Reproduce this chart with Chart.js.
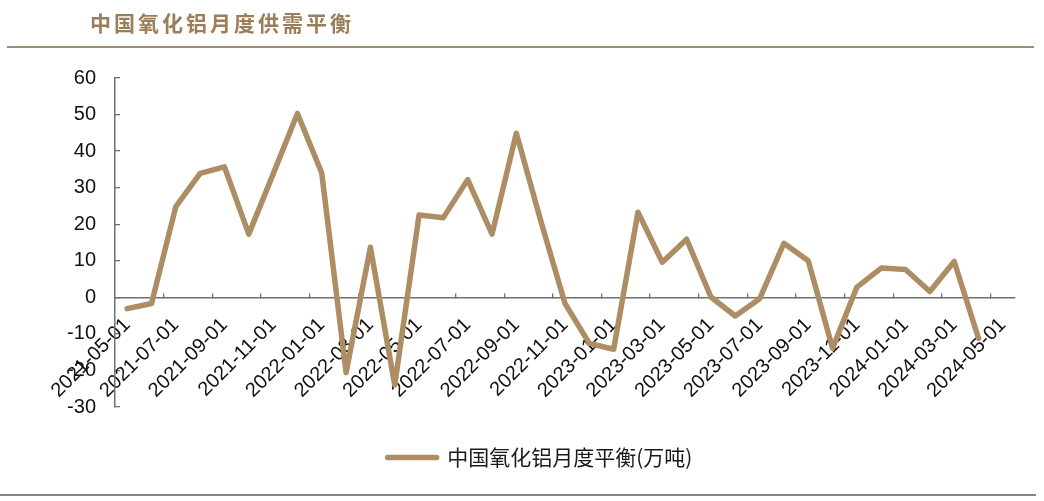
<!DOCTYPE html>
<html>
<head>
<meta charset="utf-8">
<script src="https://cdn.jsdelivr.net/npm/chart.js@4"></script>
<style>
  html, body { margin: 0; padding: 0; background: #fff; }
  #wrap { position: relative; width: 1044px; height: 501px; overflow: hidden; }
  #chartBox { position: absolute; left: 0; top: 0; width: 1044px; height: 501px; }
  #title {
    position: absolute; left: 90px; top: 8px;
    font-family: "Noto Sans CJK SC", sans-serif; font-weight: bold;
    font-size: 21px; letter-spacing: 3px; color: #9b7d59; line-height: 28px;
  }
  #topLine { position: absolute; left: 7px; top: 46px; width: 1027px; height: 2px; background: #a08b73; }
  #bottomLine { position: absolute; left: 0; top: 494px; width: 1036px; height: 2px; background: #8f8474; }
</style>
</head>
<body>
<div id="wrap">
  <div id="chartBox"><canvas id="balanceChart"></canvas></div>
  <div id="title">中国氧化铝月度供需平衡</div>
  <div id="topLine"></div>
  <div id="bottomLine"></div>
</div>
<script>
const months = [
  "2021-05-01", "2021-06-01", "2021-07-01", "2021-08-01", "2021-09-01", "2021-10-01",
  "2021-11-01", "2021-12-01", "2022-01-01", "2022-02-01", "2022-03-01", "2022-04-01",
  "2022-05-01", "2022-06-01", "2022-07-01", "2022-08-01", "2022-09-01", "2022-10-01",
  "2022-11-01", "2022-12-01", "2023-01-01", "2023-02-01", "2023-03-01", "2023-04-01",
  "2023-05-01", "2023-06-01", "2023-07-01", "2023-08-01", "2023-09-01", "2023-10-01",
  "2023-11-01", "2023-12-01", "2024-01-01", "2024-02-01", "2024-03-01", "2024-04-01",
  "2024-05-01",
];
// 万吨, last month not published yet
const balance = [
  -3.1, -1.7, 24.8, 33.9, 35.7, 17.3,
  33.7, 50.3, 34.0, -20.6, 13.7, -24.0,
  22.5, 21.8, 32.2, 17.3, 44.9, 21.0,
  -1.7, -12.6, -14.2, 23.3, 9.6, 15.9,
  0.1, -5.1, -0.4, 14.8, 10.0, -13.9,
  2.8, 8.0, 7.6, 1.6, 9.8, -11.2,
  null,
];
const seriesName = "中国氧化铝月度平衡(万吨)";
const yMin = -30;
const yMax = 60;
const yStep = 10;

const lineColor = "#ad8d64";
const axisColor = "#707070";

new Chart(document.getElementById("balanceChart"), {
  type: "line",
  data: {
    labels: months,
    datasets: [
      {
        label: seriesName,
        data: balance,
        borderColor: lineColor,
        backgroundColor: lineColor,
        borderWidth: 5.5,
        borderJoinStyle: "round",
        borderCapStyle: "round",
        pointRadius: 0,
        tension: 0,
        spanGaps: false,
      },
    ],
  },
  options: {
    responsive: true,
    maintainAspectRatio: false,
    animation: false,
    layout: { padding: { left: 65, right: 29, top: 78, bottom: 23 } },
    plugins: {
      title: { display: false },
      tooltip: { enabled: false },
      legend: {
        display: true,
        position: "bottom",
        labels: {
          boxWidth: 49,
          boxHeight: 0,
          padding: 40,
          color: "#1a1a1a",
          font: { family: "'Noto Sans CJK SC', sans-serif", size: 21 },
        },
      },
    },
    scales: {
      x: {
        type: "category",
        position: { y: 0 },
        offset: true,
        grid: {
          offset: true,
          drawOnChartArea: false,
          tickLength: -5,
          lineWidth: 1.3,
          color: (ctx) =>
            ctx.index > 0 && ctx.index % 2 === 0 ? axisColor : "rgba(0,0,0,0)",
        },
        border: { color: axisColor, width: 1.5 },
        ticks: {
          autoSkip: false,
          maxRotation: 45,
          minRotation: 45,
          padding: 21,
          color: "#111",
          font: { family: "'Liberation Sans', Arial, sans-serif", size: 20 },
          callback: function (value, index) {
            return index % 2 === 0 ? this.getLabelForValue(value) : "";
          },
        },
      },
      y: {
        min: yMin,
        max: yMax,
        afterFit: (scale) => {
          scale.width = 50;
        },
        grid: {
          drawOnChartArea: false,
          tickLength: -5,
          color: axisColor,
          lineWidth: 1.3,
        },
        border: { color: axisColor, width: 1.5 },
        ticks: {
          stepSize: yStep,
          padding: 24,
          color: "#111",
          font: { family: "'Liberation Sans', Arial, sans-serif", size: 20 },
        },
      },
    },
  },
});
</script>
</body>
</html>
